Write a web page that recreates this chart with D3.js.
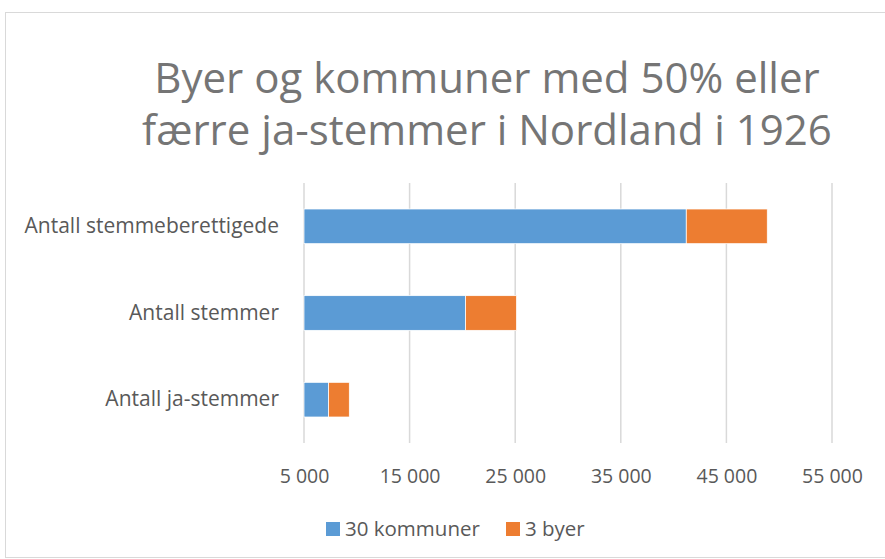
<!DOCTYPE html>
<html>
<head>
<meta charset="utf-8">
<script src="https://cdn.jsdelivr.net/npm/d3@7"></script>
<style>
  body { margin: 0; background: #fff; }
  text { font-family: "Open Sans", "Liberation Sans", sans-serif; }
</style>
</head>
<body>
<div id="canvas"></div>
<script>
const categories = ["Antall stemmeberettigede", "Antall stemmer", "Antall ja-stemmer"];
const kommuner = [41200, 20300, 7330];
const byer = [7670, 4830, 1960];
const seriesNames = ["30 kommuner", "3 byer"];
const colors = ["#5b9bd5", "#ed7d31"];
const tickValues = [5000, 15000, 25000, 35000, 45000, 55000];
const titleLines = ["Byer og kommuner med 50% eller", "færre ja-stemmer i Nordland i 1926"];

const width = 885;
const height = 559;
const margin = { top: 183, left: 304, bottom: 116, right: 53 };
const iwidth = width - margin.left - margin.right;
const iheight = height - margin.top - margin.bottom;

const svg = d3.select("#canvas").append("svg")
  .attr("width", width)
  .attr("height", height);

// chart frame
svg.append("rect")
  .attr("x", 5.5).attr("y", 12.5)
  .attr("width", 880).attr("height", 545)
  .attr("fill", "none")
  .attr("stroke", "#d9d9d9");

// title
svg.append("text")
  .attr("text-anchor", "middle")
  .attr("fill", "#757575")
  .style("font-size", "42px")
  .selectAll("tspan")
  .data(titleLines)
  .join("tspan")
  .attr("x", 487)
  .attr("y", (d, i) => 93 + i * 52)
  .text(d => d);

const g = svg.append("g")
  .attr("transform", `translate(${margin.left},${margin.top})`);

const x = d3.scaleLinear().domain([5000, 55000]).range([0, iwidth]);
const y = d3.scaleBand().domain(categories).range([0, iheight]).paddingInner(0.6).paddingOuter(0.3);

// gridlines
g.selectAll("line.grid")
  .data(tickValues)
  .join("line")
  .attr("class", "grid")
  .attr("x1", d => x(d)).attr("x2", d => x(d))
  .attr("y1", 0).attr("y2", iheight)
  .attr("stroke", "#d9d9d9")
  .attr("stroke-width", 1.5);

const stacked = categories.map((c, i) => ({
  cat: c,
  parts: [
    { s: 0, x0: 5000, x1: kommuner[i] },
    { s: 1, x0: kommuner[i], x1: kommuner[i] + byer[i] }
  ]
}));

g.selectAll("g.row")
  .data(stacked)
  .join("g")
  .attr("class", "row")
  .selectAll("rect")
  .data(d => d.parts.map(p => ({ ...p, cat: d.cat })))
  .join("rect")
  .attr("x", d => x(d.x0))
  .attr("y", d => y(d.cat))
  .attr("width", d => x(d.x1) - x(d.x0))
  .attr("height", y.bandwidth())
  .attr("fill", d => colors[d.s])
  .attr("stroke", "#fff")
  .attr("stroke-width", 0.75);

// x axis labels
const xAxis = g.append("g")
  .attr("transform", `translate(0,${iheight})`)
  .call(d3.axisBottom(x).tickValues(tickValues).tickSize(0).tickPadding(26)
    .tickFormat(d => d3.format(",")(d).replace(",", " ")));
xAxis.select(".domain").remove();
xAxis.selectAll("text").attr("fill", "#595959").style("font-size", "19.5px");

// category labels
const yAxis = g.append("g")
  .call(d3.axisLeft(y).tickSize(0).tickPadding(25));
yAxis.select(".domain").remove();
yAxis.selectAll("text").attr("fill", "#595959").style("font-size", "21px");

// legend
const legend = svg.append("g").attr("transform", "translate(326,529)");
const items = legend.selectAll("g")
  .data(seriesNames)
  .join("g")
  .attr("transform", (d, i) => `translate(${i * 180},0)`);
items.append("rect")
  .attr("x", 0).attr("y", -7)
  .attr("width", 14).attr("height", 14)
  .attr("fill", (d, i) => colors[i]);
items.append("text")
  .attr("x", 19).attr("y", 0)
  .attr("dy", "0.35em")
  .attr("fill", "#595959")
  .style("font-size", "20.5px")
  .text(d => d);
</script>
</body>
</html>
